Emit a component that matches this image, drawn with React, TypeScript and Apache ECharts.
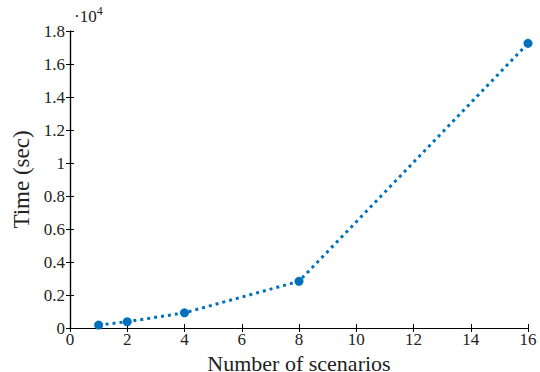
import React, { useEffect, useRef } from "react";
import * as echarts from "echarts";

const scenarios = [1, 2, 4, 8, 16];
const timeSec = [180, 380, 920, 2830, 17250];
const xTicks = { min: 0, max: 16, interval: 2 };
const yTicks = { min: 0, max: 18000, interval: 2000 };

const FONT = "Liberation Serif";
const BLUE = "#0072BD";

export default function App() {
  const ref = useRef<HTMLDivElement>(null);
  useEffect(() => {
    if (!ref.current) return;
    document.body.style.margin = "0";
    const chart = echarts.init(ref.current, undefined, { renderer: "svg" });
    const axisLine = { show: true, lineStyle: { color: "#000", width: 1.2 } };
    const tick = { show: true, inside: true, length: 4, lineStyle: { color: "#000", width: 1 } };
    chart.setOption({
      animation: false,
      backgroundColor: "#fff",
      grid: { left: 70, right: 12, top: 31, bottom: 44, containLabel: false, outerBoundsMode: "none" },
      xAxis: [
        {
          type: "value",
          ...xTicks,
          name: "Number of scenarios",
          nameLocation: "middle",
          nameGap: 17,
          nameTextStyle: { fontFamily: FONT, fontSize: 22, lineHeight: 20, color: "#222" },
          axisLine,
          axisTick: tick,
          splitLine: { show: false },
          axisLabel: { fontFamily: FONT, fontSize: 17, color: "#222", margin: 3 },
        },
        {
          type: "value",
          position: "top",
          ...xTicks,
          axisLine,
          axisTick: tick,
          splitLine: { show: false },
          axisLabel: { show: false },
        },
      ],
      yAxis: [
        {
          type: "value",
          ...yTicks,
          name: "Time (sec)",
          nameLocation: "middle",
          nameGap: 35,
          nameTextStyle: { fontFamily: FONT, fontSize: 23, color: "#222" },
          axisLine,
          axisTick: tick,
          splitLine: { show: false },
          axisLabel: {
            fontFamily: FONT,
            fontSize: 17,
            color: "#222",
            margin: 5,
            formatter: (v: number) => String(parseFloat((v / 10000).toFixed(1))),
          },
        },
        {
          type: "value",
          position: "right",
          ...yTicks,
          axisLine,
          axisTick: tick,
          splitLine: { show: false },
          axisLabel: { show: false },
        },
      ],
      graphic: [
        {
          type: "text",
          left: 74,
          top: 5,
          style: {
            text: "{a|·10}{b|4}",
            rich: {
              a: { fontFamily: FONT, fontSize: 17, fill: "#222", verticalAlign: "bottom", lineHeight: 20 },
              b: { fontFamily: FONT, fontSize: 12, fill: "#222", verticalAlign: "top", lineHeight: 20, padding: [0, 0, 8, 0] },
            },
          },
        },
      ],
      series: [
        {
          type: "line",
          data: scenarios.map((s, i) => [s, timeSec[i]]),
          symbol: "circle",
          symbolSize: 9,
          itemStyle: { color: BLUE },
          lineStyle: { color: BLUE, width: 3, type: [3, 4] },
        },
      ],
    });
    return () => chart.dispose();
  }, []);
  return <div ref={ref} style={{ width: 540, height: 372, position: "absolute", left: 0, top: 0 }} />;
}
